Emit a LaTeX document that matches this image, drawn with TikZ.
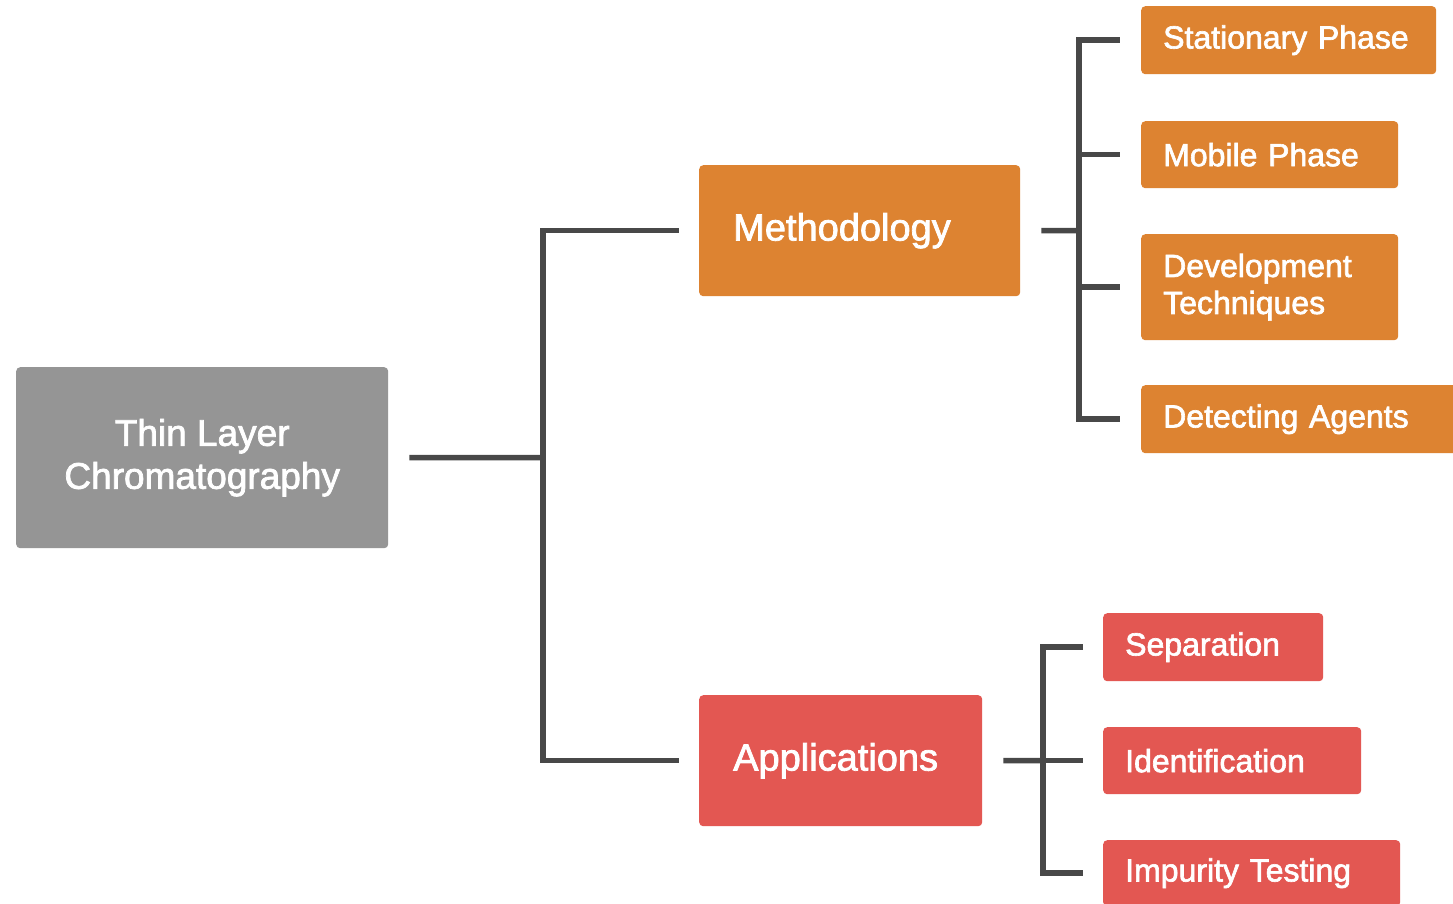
\documentclass[tikz,border=0pt]{standalone}
\usepackage{fontspec}
\setmainfont[FakeBold=2]{Liberation Sans}
\definecolor{rootgray}{HTML}{959595}
\definecolor{methorange}{HTML}{DD8331}
\definecolor{appred}{HTML}{E35752}
\definecolor{linegray}{HTML}{484848}
\tikzset{
  box/.style={fill=#1, draw=none, rounded corners=4pt, text=white, anchor=north west,
    inner ysep=0pt, align=left},
  rootbox/.style={box=rootgray, align=center, font=\fontsize{37}{43}\selectfont},
  midbox/.style={box=#1, inner xsep=34pt, font=\fontsize{38}{44}\selectfont},
  leafbox/.style={box=#1, inner xsep=22pt, font=\fontsize{32}{37}\selectfont},
  conn/.style={draw=linegray, line width=5.5pt, line cap=butt, line join=miter}
}
\begin{document}
\begin{tikzpicture}[x=1pt,y=-1pt]
\clip (0,0) rectangle (1453,903);
\fill[white] (0,0) rectangle (1453,903);

% root
\node[rootbox, minimum width=372pt, minimum height=181pt] (root) at (16,367)
  {Thin Layer\\Chromatography};

% second level
\node[midbox=methorange, text width=253pt, minimum height=131pt] (meth) at (699,165) {Methodology};
\node[midbox=appred, text width=215pt, minimum height=131pt] (appl) at (699,695) {Applications};

% methodology leaves
\node[leafbox=methorange, text width=251pt, minimum height=68pt] (stat) at (1141,6) {Stationary Phase};
\node[leafbox=methorange, text width=213pt, minimum height=67pt] (mob) at (1141,121) {Mobile Phase};
\node[leafbox=methorange, text width=213pt, minimum height=106pt] (dev) at (1141,234) {Development\\Techniques};
\node[leafbox=methorange, text width=280pt, minimum height=68pt] (det) at (1141,385) {Detecting Agents};

% application leaves
\node[leafbox=appred, text width=176pt, minimum height=68pt] (sep) at (1103,613) {Separation};
\node[leafbox=appred, text width=214pt, minimum height=67pt] (ident) at (1103,727) {Identification};
\node[leafbox=appred, text width=253pt, minimum height=66pt] (imp) at (1103,840) {Impurity Testing};

% junction points
\coordinate (jA) at (543,457.5);
\coordinate (jB) at (1079,230.5);
\coordinate (jC) at (1043,760.5);

% connectors
\draw[conn, shorten <=21pt] (root.east) -- (jA);
\draw[conn, shorten >=20pt] (jA) |- (meth.west);
\draw[conn, shorten >=20pt] (jA) |- (appl.west);

\draw[conn, shorten <=21pt] (meth.east) -- (jB);
\foreach \n in {stat,mob,dev,det}
  \draw[conn, shorten >=21pt] (jB) |- (\n.west);

\draw[conn, shorten <=21pt] (appl.east) -- (jC);
\foreach \n in {sep,ident}
  \draw[conn, shorten >=20pt] (jC) |- (\n.west);
\draw[conn, shorten >=20pt] (jC) |- (imp.west |- 0,873);
\end{tikzpicture}
\end{document}
